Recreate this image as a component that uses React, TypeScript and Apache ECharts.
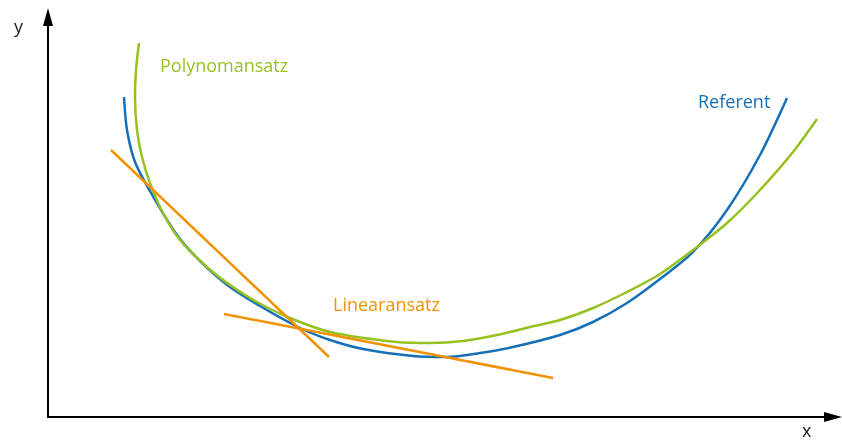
import React, { useEffect, useRef } from "react";
import * as echarts from "echarts";

// Coordinates: x = distance right of the y axis, y = height above the x axis (abstract units)
const referentX = [76, 79, 87, 102, 129, 152, 182, 212, 252, 282, 315, 365, 399, 432, 465, 512, 545, 579, 612, 645, 679, 712, 739];
const referentY = [320, 287, 255, 226, 182, 156, 130, 111, 89, 77, 68, 61, 60, 64, 70, 82, 95, 114, 138, 165, 207, 262, 319];

const polyX = [91, 88, 87, 89, 94, 102, 115, 132, 159, 182, 209, 242, 282, 349, 382, 415, 449, 482, 512, 545, 579, 612, 645, 679, 712, 745, 769];
const polyY = [374, 347, 320, 287, 260, 234, 204, 177, 150, 132, 115, 99, 85, 75, 74, 76, 82, 90, 97, 109, 125, 143, 167, 194, 227, 265, 298];

const linear1X = [63, 281];
const linear1Y = [267, 60];
const linear2X = [176, 505];
const linear2Y = [103, 39];

const labels = {
  referent: "Referent",
  poly: "Polynomansatz",
  linear: "Linearansatz",
  xAxis: "x",
  yAxis: "y",
};

const BLUE = "#1570b8";
const GREEN = "#97c11f";
const ORANGE = "#f39200";

const zip = (xs: number[], ys: number[]) => xs.map((x, i) => [x, ys[i]]);

export default function App() {
  const ref = useRef<HTMLDivElement>(null);
  useEffect(() => {
    if (!ref.current) return;
    const chart = echarts.init(ref.current, undefined, { renderer: "svg" });
    const font = "'Open Sans', 'Noto Sans', sans-serif";
    const axisCommon = {
      type: "value" as const,
      min: 0,
      splitLine: { show: false },
      axisTick: { show: false },
      axisLabel: { show: false },
      axisLine: {
        show: true,
        symbol: ["none", "path://M5 0 L10 18 L0 18 Z"],
        symbolSize: [14, 18],
        lineStyle: { color: "#000", width: 2 },
      },
    };
    const curve = (xs: number[], ys: number[], color: string, z: number, smooth: number | boolean) => ({
      type: "line",
      data: zip(xs, ys),
      smooth,
      showSymbol: false,
      lineStyle: { color, width: 2.5 },
      z,
    });
    chart.setOption({
      animation: false,
      grid: { left: 48, right: 9, top: 17, bottom: 24 },
      xAxis: { ...axisCommon, max: 785 },
      yAxis: { ...axisCommon, max: 400 },
      series: [
        curve(referentX, referentY, BLUE, 2, 0.3),
        curve(polyX, polyY, GREEN, 3, 0.3),
        curve(linear1X, linear1Y, ORANGE, 4, false),
        curve(linear2X, linear2Y, ORANGE, 4, false),
      ],
      graphic: [
        { type: "text", left: 160, top: 56, style: { text: labels.poly, fill: GREEN, font: `18px ${font}` } },
        { type: "text", left: 698, top: 92, style: { text: labels.referent, fill: BLUE, font: `18px ${font}` } },
        { type: "text", left: 333, top: 295, style: { text: labels.linear, fill: ORANGE, font: `18px ${font}` } },
        { type: "text", left: 14, top: 17, style: { text: labels.yAxis, fill: "#222", font: `18px ${font}` } },
        { type: "text", left: 802, top: 421, style: { text: labels.xAxis, fill: "#222", font: `18px ${font}` } },
      ],
    });
    return () => chart.dispose();
  }, []);
  return <div ref={ref} style={{ position: "fixed", left: 0, top: 0, width: 842, height: 441 }} />;
}
